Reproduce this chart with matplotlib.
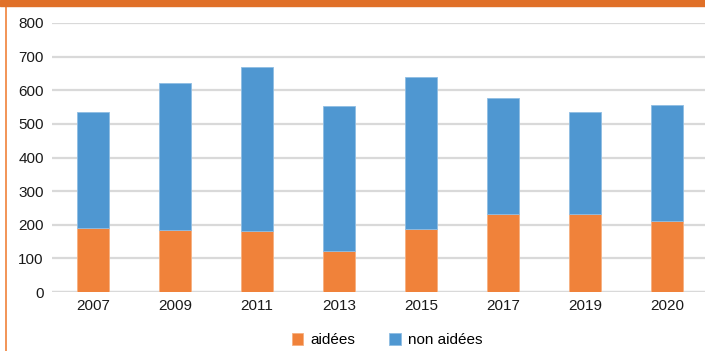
import matplotlib
matplotlib.use('Agg')
import matplotlib.pyplot as plt
import numpy as np
from matplotlib.patches import Rectangle
from matplotlib.lines import Line2D

# data
years = ['2007', '2009', '2011', '2013', '2015', '2017', '2019', '2020']
aidees = [190, 185, 181, 122, 188, 232, 232, 211]
non_aidees = [346, 437, 489, 432, 452, 345, 304, 346]

c_orange = '#F0823A'
c_blue = '#4F97D1'

plt.rcParams['font.family'] = ['Liberation Sans', 'DejaVu Sans']

fig = plt.figure(figsize=(7.05, 3.51), dpi=100)

# axes placed by pixel
W, H = 705, 351
ax = fig.add_axes([52 / W, 59 / H, 656 / W, 269 / H])

x = np.arange(len(years))
ax.bar(x, aidees, width=0.39, color=c_orange, edgecolor='#F6B080', linewidth=0.6,
       label='aidées', zorder=3)
ax.bar(x, non_aidees, bottom=aidees, width=0.39, color=c_blue, edgecolor='#8FBDE3',
       linewidth=0.6, label='non aidées', zorder=3)

ax.set_xlim(-0.5, len(years) - 0.5)
ax.set_ylim(0, 800)
ax.set_yticks(range(0, 801, 100))
ax.set_xticks(x)
ax.set_xticklabels(years)
ax.yaxis.grid(True, color='#D9D9D9', linewidth=1.6, zorder=0)
ax.tick_params(axis='both', length=0, labelsize=11, colors='#1a1a1a')
ax.tick_params(axis='y', pad=6)
ax.tick_params(axis='x', pad=5)
for s in ax.spines.values():
    s.set_visible(False)
ax.axhline(0, color='#D9D9D9', linewidth=1.6, zorder=2)

# legend
ax.legend(loc='upper center', bbox_to_anchor=(0.511, -0.1), ncol=2, frameon=False,
          fontsize=11, handlelength=0.75, handleheight=0.9, handletextpad=0.5,
          columnspacing=2.2)

# orange frame: top band and left line
fig.patches.append(Rectangle((0, 1 - 6 / H), 1, 6 / H, transform=fig.transFigure,
                             color='#E07028', zorder=5))
fig.lines.append(Line2D([6 / W, 6 / W], [0, 1], transform=fig.transFigure,
                        color='#F0823A', linewidth=1.2))

fig.savefig('out.png', dpi=100)
